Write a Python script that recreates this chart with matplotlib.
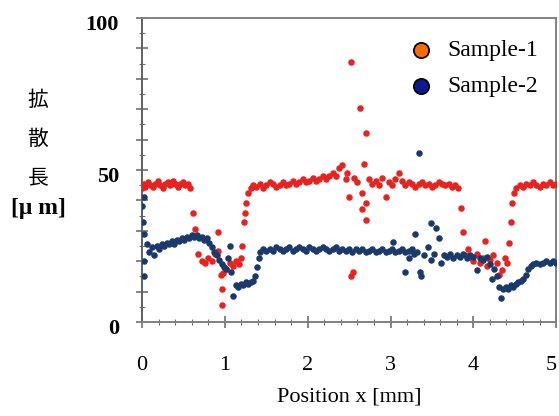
import matplotlib.pyplot as plt
import matplotlib.transforms as mtrans
from matplotlib.ticker import MultipleLocator

# Sample-1 (赤)
s1_x = [0.00, 0.02, 0.04, 0.07, 0.10, 0.13, 0.16, 0.19, 0.22, 0.25, 0.28, 0.31, 0.34, 0.37, 0.40,
        0.43, 0.46, 0.49, 0.52, 0.55, 0.58,
        0.62, 0.64, 0.68, 0.72, 0.76, 0.80, 0.84, 0.88, 0.92, 0.92, 0.95, 0.96, 0.97, 0.98, 1.02,
        1.06, 1.10, 1.14, 1.17, 1.20, 1.21, 1.23, 1.24, 1.26, 1.28, 1.31,
        1.34, 1.38, 1.42, 1.46, 1.50, 1.54, 1.58, 1.62, 1.66, 1.70, 1.74, 1.78, 1.82, 1.86, 1.90,
        1.94, 1.98, 2.02, 2.06, 2.10, 2.14, 2.18, 2.22, 2.26, 2.30, 2.34, 2.38, 2.42,
        2.46, 2.48, 2.50, 2.52, 2.52, 2.55, 2.56, 2.60, 2.63, 2.65, 2.66, 2.68, 2.70, 2.71, 2.71,
        2.74, 2.78, 2.82, 2.86, 2.90, 2.94, 2.98, 3.02, 3.06, 3.10, 3.14, 3.18, 3.22, 3.26, 3.30,
        3.34, 3.38, 3.42, 3.46, 3.50, 3.54, 3.58, 3.62, 3.66, 3.70, 3.74, 3.78, 3.82,
        3.85, 3.87, 3.90, 3.93, 3.96, 4.00, 4.04, 4.08, 4.12, 4.14, 4.17, 4.20, 4.24, 4.28, 4.31,
        4.34, 4.38, 4.41, 4.43, 4.45, 4.47, 4.49, 4.52, 4.56, 4.60, 4.64, 4.68, 4.72, 4.76, 4.80,
        4.84, 4.88, 4.92, 4.96, 5.00]
s1_y = [44.0, 45.5, 44.5, 46.0, 45.0, 44.5, 45.5, 46.5, 45.0, 44.0, 45.5, 46.0, 45.0, 46.5, 45.5,
        44.5, 45.5, 46.0, 45.0, 45.5, 44.0,
        36.0, 30.5, 22.5, 20.0, 19.5, 21.0, 20.0, 22.5, 29.5, 23.5, 15.5, 5.5, 11.0, 16.0, 17.5,
        19.5, 18.5, 20.0, 19.0, 21.0, 25.0, 33.0, 36.0, 39.0, 42.5, 44.0,
        45.0, 44.5, 45.5, 44.0, 45.0, 46.0, 45.5, 44.5, 45.0, 46.0, 45.0, 45.5, 46.5, 45.5, 46.0,
        47.0, 46.0, 46.5, 47.5, 46.5, 47.0, 48.0, 47.0, 48.0, 49.0, 48.0, 50.5, 51.5,
        47.0, 49.0, 41.0, 85.5, 15.0, 16.5, 47.5, 46.0, 70.5, 37.0, 42.5, 52.0, 33.5, 62.0, 39.0,
        47.0, 45.5, 46.5, 45.0, 47.5, 41.0, 46.0, 45.0, 47.0, 49.0, 46.5, 45.0, 46.0, 45.5, 44.5,
        45.5, 46.0, 45.0, 45.5, 44.5, 45.0, 46.0, 45.5, 45.0, 45.5, 44.5, 45.0, 44.0,
        37.5, 29.5, 22.0, 24.0, 21.5, 20.0, 22.5, 19.5, 21.0, 26.5, 18.5, 20.5, 22.0, 19.5, 15.5,
        17.0, 21.0, 19.5, 26.0, 33.0, 39.0, 42.5, 44.0, 45.0, 44.5, 45.5, 45.0, 46.0, 45.0, 44.5,
        45.5, 45.0, 46.0, 45.0, 45.5]

# Sample-2 (紺)
s2_x = [0.00, 0.01, 0.02, 0.02, 0.03, 0.03,
        0.06, 0.09, 0.12, 0.15, 0.18, 0.21, 0.24, 0.27, 0.30, 0.33, 0.36, 0.39, 0.42, 0.45, 0.48,
        0.51, 0.54, 0.57, 0.60, 0.63, 0.66, 0.69, 0.72, 0.75, 0.78, 0.81, 0.84, 0.87, 0.90, 0.93,
        0.96, 0.99, 1.02, 1.04, 1.06, 1.08, 1.10, 1.13, 1.16, 1.19, 1.22, 1.25, 1.28, 1.31, 1.34,
        1.37, 1.39, 1.41, 1.43, 1.46, 1.50,
        1.54, 1.58, 1.62, 1.66, 1.70, 1.74, 1.78, 1.82, 1.86, 1.90, 1.94, 1.98, 2.02, 2.06, 2.10,
        2.14, 2.18, 2.22, 2.26, 2.30, 2.34, 2.38, 2.42, 2.46, 2.50, 2.54, 2.58, 2.62, 2.66, 2.70,
        2.74, 2.78, 2.82, 2.86, 2.90, 2.94, 2.98, 3.02, 3.06, 3.10, 3.14, 3.18, 3.22, 3.26,
        3.03, 3.18, 3.22, 3.28, 3.30, 3.32, 3.34, 3.35, 3.37, 3.40, 3.45, 3.49, 3.49, 3.52, 3.55,
        3.58, 3.61, 3.64, 3.68, 3.72, 3.76, 3.80, 3.84, 3.88, 3.92, 3.96, 4.00, 4.04, 4.08, 4.12,
        4.16, 4.20, 4.22, 4.25, 4.28, 4.31, 4.33, 4.36, 4.39, 4.42, 4.45, 4.48, 4.51, 4.54, 4.57,
        4.60, 4.63, 4.66, 4.69, 4.72, 4.76, 4.80, 4.84, 4.88, 4.92, 4.96, 5.00]
s2_y = [38.0, 33.0, 29.0, 41.0, 20.0, 15.0,
        25.5, 23.0, 24.5, 22.0, 25.0, 24.0, 25.5, 25.0, 26.0, 25.5, 26.5, 25.5, 27.0, 26.5, 27.5,
        27.0, 28.0, 27.5, 28.5, 28.0, 28.5, 27.5, 28.0, 27.0, 27.5, 26.0, 24.5, 23.0, 22.0, 20.5,
        19.0, 18.0, 17.5, 21.0, 25.0, 16.5, 8.5, 12.0, 11.5, 12.5, 12.0, 13.0, 12.5, 13.0, 13.5,
        15.0, 18.0, 21.0, 23.0, 24.0, 23.5,
        24.0, 23.5, 24.5, 24.0, 23.5, 24.0, 24.5, 23.5, 24.0, 24.5, 24.0, 23.5, 24.5, 24.0, 23.5,
        24.0, 24.5, 24.0, 23.5, 24.0, 24.5, 23.5, 24.0, 23.5, 24.0, 23.0, 24.0, 23.5, 24.0, 23.0,
        23.5, 24.0, 23.0, 23.5, 24.0, 23.0, 23.5, 24.0, 23.0, 23.5, 24.0, 23.0, 23.5, 24.0,
        26.3, 16.5, 21.0, 22.5, 29.0, 23.0, 55.5, 16.5, 15.0, 22.0, 24.5, 32.5, 20.5, 22.5, 31.0,
        27.5, 19.5, 22.0, 21.5, 22.5, 21.0, 22.0, 21.5, 22.5, 21.0, 22.0, 21.5, 17.0, 21.0, 20.5,
        21.5, 19.0, 14.0, 17.5, 15.0, 11.5, 8.0, 11.0, 11.5, 11.0, 12.0, 11.5, 12.5, 13.0, 13.5,
        14.0, 15.5, 17.5, 18.5, 19.0, 19.5, 19.0, 19.5, 20.0, 19.5, 20.0, 19.5]

x_ticks = [0, 1, 2, 3, 4, 5]
y_ticks = [0, 10, 20, 30, 40, 50, 60, 70, 80, 90, 100]
y_ticklabels = ['0', '', '', '', '', '50', '', '', '', '', '100']

fig = plt.figure(figsize=(5.59, 4.16), dpi=100)
ax = fig.add_axes([0.254, 0.226, 0.741, 0.731])

ax.scatter(s1_x, s1_y, s=22, color='#e8221e', linewidths=0, zorder=3)
ax.scatter(s2_x, s2_y, s=22, color='#1b3a6c', linewidths=0, zorder=3)

# 凡例用のダミー
ax.scatter([], [], s=120, color='#ff6a00', edgecolors='black', linewidths=1.3, label='Sample-1')
ax.scatter([], [], s=120, color='#0b1a8e', edgecolors='black', linewidths=1.3, label='Sample-2')
ax.legend(loc='upper right', bbox_to_anchor=(1.0, 0.987), frameon=False,
          handlelength=1.0, handletextpad=0.65, labelspacing=0.6, borderaxespad=0.35,
          prop={'family': 'Liberation Serif', 'size': 17})

ax.set_xlim(0, 5)
ax.set_ylim(0, 100)
ax.set_xticks(x_ticks)
ax.set_xticklabels([str(v) for v in x_ticks], family='Liberation Serif', fontsize=16)
ax.xaxis.set_minor_locator(MultipleLocator(0.2))
ax.set_yticks(y_ticks)
ax.set_yticklabels(y_ticklabels, family='Liberation Serif', fontsize=16, fontweight='bold')
ax.yaxis.set_minor_locator(MultipleLocator(5))

for sp in ax.spines.values():
    sp.set_color('#808080')
    sp.set_linewidth(1.4)
ax.spines['left'].set_color('#606060')

ax.tick_params(which='both', direction='inout', color='#707070')
ax.tick_params(axis='x', which='major', length=9, width=1.2, pad=20)
ax.tick_params(axis='x', which='minor', length=4, width=0.8)
ax.tick_params(axis='y', which='major', length=9, width=1.2, pad=12)
ax.tick_params(axis='y', which='minor', length=5, width=0.8)

# 右端の「5」が切れないように少し左へ
left_shift = mtrans.ScaledTranslation(-5 / 100, 0, fig.dpi_scale_trans)
lab5 = ax.get_xticklabels()[5]
lab5.set_transform(lab5.get_transform() + left_shift)

down_shift = mtrans.ScaledTranslation(0, -5 / 100, fig.dpi_scale_trans)
for t in ax.get_yticklabels():
    t.set_transform(t.get_transform() + down_shift)

ax.set_xlabel('Position x [mm]', family='Liberation Serif', fontsize=16, labelpad=9)

# 縦書きのラベル
for i, ch in enumerate(['拡', '散', '長']):
    fig.text(0.068, 0.760 - i * 0.094, ch, family=['Noto Sans CJK JP'], fontsize=15,
             ha='center', va='center')
fig.text(0.068, 0.498, '[μ m]', family='Liberation Serif', fontsize=17, fontweight='bold',
         ha='center', va='center')

fig.savefig('out.png', dpi=100)
